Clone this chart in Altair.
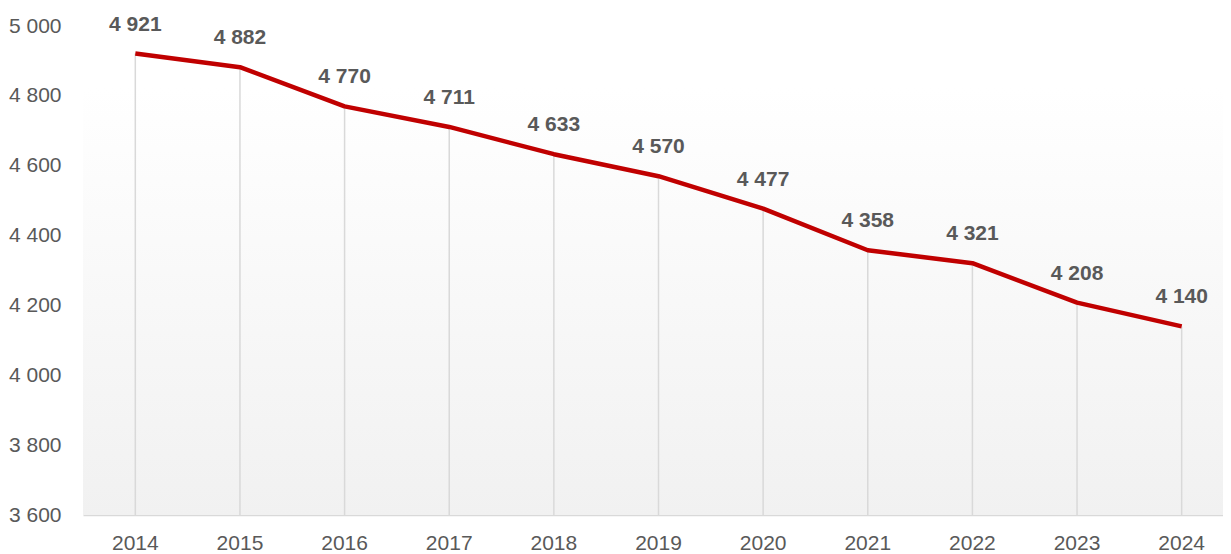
import altair as alt
import pandas as pd

years = ["2014", "2015", "2016", "2017", "2018", "2019", "2020", "2021", "2022", "2023", "2024"]
values = [4921, 4882, 4770, 4711, 4633, 4570, 4477, 4358, 4321, 4208, 4140]
y_ticks = [3600, 3800, 4000, 4200, 4400, 4600, 4800, 5000]

df = pd.DataFrame({"year": years, "value": values})
df["label"] = [f"{v:,}".replace(",", " ") for v in values]
df["base"] = 3600

W, H = 1140, 489
FONT = "Liberation Sans Narrow, Arial Narrow, Liberation Sans, sans-serif"
GREY = "#595959"
FS = 21

x_enc = alt.X("year:N", sort=years, title=None,
              scale=alt.Scale(paddingInner=0, paddingOuter=0, align=0.5, range=[0, 1151]),
              axis=alt.Axis(labelAngle=0, labelFontSize=FS, labelColor=GREY, labelFont=FONT,
                            ticks=False, tickSize=0, labelPadding=17, domain=True,
                            domainColor="#d9d9d9", domainWidth=1.5, grid=False))
y_scale = alt.Scale(domain=[3600, 5000], nice=False, zero=False)
y_enc = alt.Y("value:Q", scale=y_scale, title=None,
              axis=alt.Axis(values=y_ticks, labelFontSize=FS, labelColor=GREY, labelFont=FONT,
                            ticks=False, domain=False, grid=False, labelPadding=22,
                            labelExpr="replace(format(datum.value, ','), ',', ' ')"))

bg = alt.Chart(df).mark_rect(
    color=alt.LinearGradient(gradient="linear", x1=0, y1=0, x2=0, y2=1,
                             stops=[alt.GradientStop(color="#ffffff", offset=0),
                                    alt.GradientStop(color="#f1f1f1", offset=1)])
).encode(
    x=alt.value(0), x2=alt.value(W),
    y=alt.value(62), y2=alt.value(H),
)

drops = alt.Chart(df).mark_rule(color="#d9d9d9", strokeWidth=1.5).encode(
    x=x_enc, y=y_enc, y2="base:Q"
)

line = alt.Chart(df).mark_line(color="#C00000", strokeWidth=4.5, strokeJoin="round").encode(
    x=x_enc, y=y_enc
)

labels = alt.Chart(df).mark_text(
    fontSize=FS, fontWeight="bold", color=GREY, font=FONT, dy=-23, baseline="alphabetic"
).encode(x=x_enc, y=y_enc, text="label:N")

chart = alt.layer(bg, drops, line, labels).properties(
    width=W, height=H,
    background="#ffffff",
    autosize=alt.AutoSizeParams(type="none"),
    padding={"left": 75, "top": 18, "right": 0, "bottom": 38},
).configure_view(stroke=None)

chart.save("out.html", embed_options={"renderer": "svg", "actions": False})
